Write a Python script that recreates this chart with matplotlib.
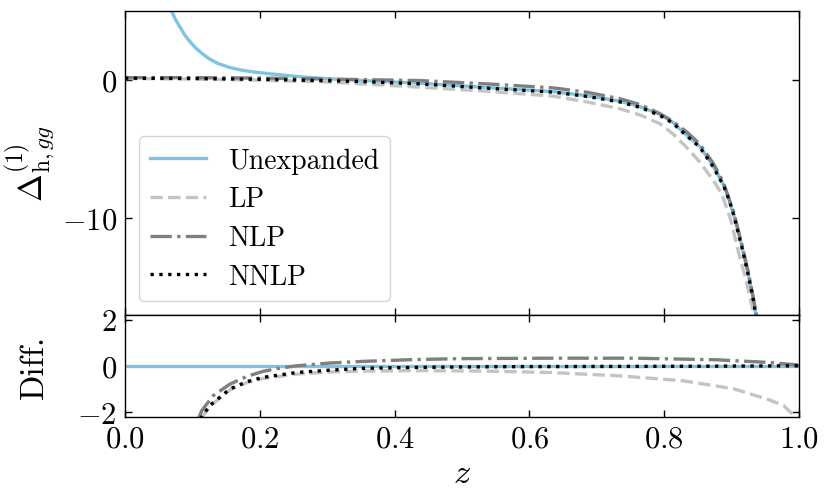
import matplotlib

matplotlib.use("Agg")
import matplotlib.pyplot as plt

plt.rcParams.update({
    "font.family": "serif",
    "font.serif": ["cmr10", "DejaVu Serif"],
    "mathtext.fontset": "cm",
    "axes.formatter.use_mathtext": True,
    "axes.unicode_minus": True,
})

# upper panel: Delta^(1)_{h,gg}(z)
z_unexp = [0.064, 0.069, 0.075, 0.082, 0.088, 0.094, 0.104, 0.114, 0.125, 0.138, 0.155,
           0.173, 0.193, 0.213, 0.237, 0.262, 0.3, 0.35, 0.438, 0.537, 0.636, 0.686,
           0.735, 0.765, 0.794, 0.813, 0.833, 0.853, 0.873, 0.888, 0.896, 0.903, 0.915,
           0.925, 0.932, 0.937]
y_unexp = [5.7, 5.0, 4.35, 3.78, 3.3, 2.9, 2.35, 1.92, 1.52, 1.18, 0.9,
           0.7, 0.56, 0.45, 0.33, 0.22, 0.08, -0.04, -0.24, -0.55, -0.85, -1.15,
           -1.55, -1.95, -2.5, -3.08, -3.98, -4.82, -6.25, -7.6, -8.6, -9.7, -12.0,
           -14.1, -15.8, -17.3]

z_lp = [0.0, 0.1, 0.2, 0.3, 0.438, 0.537, 0.636, 0.686, 0.735, 0.765, 0.794, 0.813,
        0.833, 0.853, 0.873, 0.885, 0.898, 0.911, 0.922, 0.931, 0.935]
y_lp = [0.1, 0.06, -0.02, -0.15, -0.53, -0.82, -1.18, -1.6, -2.1, -2.55, -3.18, -3.9,
        -4.87, -5.95, -7.28, -8.2, -10.0, -12.6, -14.6, -16.5, -17.5]

z_nlp = [0.0, 0.1, 0.2, 0.3, 0.438, 0.537, 0.636, 0.686, 0.735, 0.765, 0.794, 0.813,
         0.833, 0.853, 0.873, 0.888, 0.903, 0.915, 0.925, 0.932, 0.938]
y_nlp = [0.16, 0.16, 0.13, 0.06, -0.05, -0.29, -0.58, -0.9, -1.37, -1.8, -2.45, -3.0,
         -3.75, -4.65, -6.05, -7.45, -9.55, -11.85, -13.95, -15.7, -17.3]

z_nnlp = [0.0, 0.1, 0.2, 0.3, 0.35, 0.438, 0.537, 0.636, 0.686, 0.735, 0.765, 0.794,
          0.813, 0.833, 0.853, 0.873, 0.888, 0.896, 0.903, 0.915, 0.925, 0.932, 0.937]
y_nnlp = [0.12, 0.1, 0.04, -0.06, -0.12, -0.29, -0.6, -0.89, -1.2, -1.6, -2.0, -2.58,
          -3.13, -4.03, -4.87, -6.31, -7.64, -8.65, -9.75, -12.05, -14.15, -15.85, -17.3]

# lower panel: differences
zd_unexp = [0.0, 1.0]
d_unexp = [0.0, 0.0]

zd_lp = [0.113, 0.126, 0.156, 0.181, 0.205, 0.255, 0.304, 0.353, 0.428, 0.53, 0.631,
         0.73, 0.828, 0.903, 0.952, 0.977, 0.992, 0.998]
d_lp = [-2.3, -1.75, -1.04, -0.73, -0.55, -0.36, -0.27, -0.23, -0.21, -0.23, -0.29,
        -0.43, -0.65, -1.0, -1.44, -1.72, -2.15, -2.4]

zd_nlp = [0.109, 0.114, 0.131, 0.156, 0.181, 0.205, 0.23, 0.255, 0.304, 0.353, 0.428,
          0.5, 0.631, 0.754, 0.878, 0.952, 0.997, 1.0]
d_nlp = [-2.3, -1.94, -1.29, -0.79, -0.46, -0.24, -0.1, 0.0, 0.12, 0.19, 0.27,
         0.31, 0.33, 0.33, 0.26, 0.15, 0.04, 0.0]

zd_nnlp = [0.112, 0.126, 0.156, 0.181, 0.205, 0.255, 0.304, 0.353, 0.428, 0.55, 0.7,
           0.85, 1.0]
d_nnlp = [-2.3, -1.72, -1.0, -0.69, -0.5, -0.29, -0.19, -0.11, -0.07, -0.04, -0.03,
          -0.02, 0.0]

labels = ["Unexpanded", "LP", "NLP", "NNLP"]
styles = [
    dict(color="#7ec4e2", linestyle="-", linewidth=2.4),
    dict(color="#c4c4c4", linestyle="--", linewidth=2.4),
    dict(color="#7f7f7f", linestyle="-.", linewidth=2.4),
    dict(color="black", linestyle=":", linewidth=2.4),
]

fig = plt.figure(figsize=(8.31, 5.02), dpi=100)
gs = fig.add_gridspec(2, 1, height_ratios=[3, 1], hspace=0.0,
                      left=0.1504, right=0.9615, top=0.9767, bottom=0.1683)
ax = fig.add_subplot(gs[0])
axd = fig.add_subplot(gs[1], sharex=ax)

top_series = [(z_unexp, y_unexp), (z_lp, y_lp), (z_nlp, y_nlp), (z_nnlp, y_nnlp)]
diff_series = [(zd_unexp, d_unexp), (zd_lp, d_lp), (zd_nlp, d_nlp), (zd_nnlp, d_nnlp)]

for (zz, yy), lab, st in zip(top_series, labels, styles):
    ax.plot(zz, yy, label=lab, **st)
for (zz, yy), st in zip(diff_series, styles):
    axd.plot(zz, yy, **st)

ax.set_xlim(0.0, 1.0)
ax.set_ylim(-17, 5)
ax.set_yticks([-10, 0])
axd.set_ylim(-2.2, 2.2)
axd.set_yticks([-2, 0, 2])
axd.set_xticks([0.0, 0.2, 0.4, 0.6, 0.8, 1.0])

for a in (ax, axd):
    a.tick_params(direction="in", top=True, right=True, length=5, width=1,
                  labelsize=22, pad=6)
    for sp in a.spines.values():
        sp.set_linewidth(1.0)
ax.tick_params(labelbottom=False)

ax.set_ylabel(r"$\Delta^{(1)}_{\mathrm{h},gg}$", fontsize=24)
axd.set_ylabel("Diff.", fontsize=24)
axd.set_xlabel(r"$z$", fontsize=25, labelpad=4)
ax.yaxis.set_label_coords(-0.1, 0.5)
axd.yaxis.set_label_coords(-0.113, 0.5)

ax.legend(loc="lower left", fontsize=20, handlelength=2.0, labelspacing=0.45,
          borderaxespad=0.5)

fig.savefig("out.png", dpi=100)
